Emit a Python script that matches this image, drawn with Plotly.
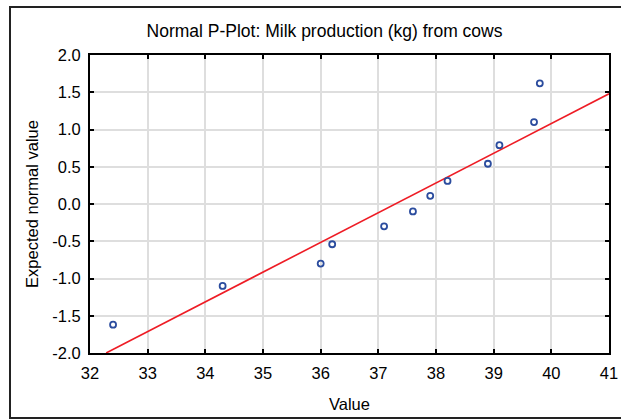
import plotly.graph_objects as go

# observed values and their expected normal quantiles
values = [32.4, 34.3, 36.0, 36.2, 37.1, 37.6, 37.9, 38.2, 38.9, 39.1, 39.7, 39.8]
expected = [-1.62, -1.10, -0.80, -0.54, -0.30, -0.10, 0.11, 0.31, 0.54, 0.79, 1.10, 1.62]

# fitted reference line (end points)
fit_x = [32.28, 41.0]
fit_y = [-2.0, 1.48]

x_ticks = [32, 33, 34, 35, 36, 37, 38, 39, 40, 41]
y_ticks = [-2.0, -1.5, -1.0, -0.5, 0.0, 0.5, 1.0, 1.5, 2.0]
y_tick_text = ["%.1f" % v for v in y_ticks]

FONT = "Arial, Liberation Sans, sans-serif"

fig = go.Figure()
fig.add_trace(
    go.Scatter(
        x=fit_x,
        y=fit_y,
        mode="lines",
        line=dict(color="#ee1c25", width=1.6),
        hoverinfo="skip",
        showlegend=False,
    )
)
fig.add_trace(
    go.Scatter(
        x=values,
        y=expected,
        mode="markers",
        marker=dict(symbol="circle-open", size=6, color="#2b4c9e", line=dict(width=1.8, color="#2b4c9e")),
        showlegend=False,
    )
)

W, H = 621, 419
L, R, T, B = 90, 12, 55, 66
pw, ph = W - L - R, H - T - B


def px_x(p):
    return (p - L) / pw


def px_y(p):
    return (H - B - p) / ph


# outer frame around the whole graph
fig.add_shape(
    type="rect",
    xref="paper",
    yref="paper",
    x0=px_x(10),
    x1=px_x(630),
    y0=px_y(418),
    y1=px_y(7),
    line=dict(color="#222222", width=2),
    fillcolor="rgba(0,0,0,0)",
    layer="below",
)

axis_common = dict(
    showline=True,
    linecolor="black",
    linewidth=2,
    mirror="ticks",
    ticks="inside",
    ticklen=4,
    tickwidth=1.5,
    tickcolor="black",
    showgrid=True,
    gridcolor="#dedede",
    gridwidth=1.5,
    zeroline=False,
    tickfont=dict(family=FONT, size=16.5, color="black"),
    title_font=dict(family=FONT, size=16.5, color="black"),
)

fig.update_layout(
    width=W,
    height=H,
    autosize=False,
    margin=dict(l=L, r=R, t=T, b=B, pad=0),
    title=dict(
        text="Normal P-Plot: Milk production (kg) from cows",
        font=dict(family=FONT, size=17.5, color="black"),
        x=324.5 / W,
        xanchor="center",
        xref="container",
        y=(H - 31) / H,
        yanchor="middle",
        yref="container",
    ),
    xaxis=dict(
        range=[32, 41],
        tickvals=x_ticks,
        ticklabelstandoff=4,
        title=dict(text="Value", standoff=18),
        **axis_common,
    ),
    yaxis=dict(
        range=[-2.0, 2.0],
        tickvals=y_ticks,
        ticktext=y_tick_text,
        ticklabelstandoff=4,
        title=dict(text="Expected normal value", standoff=9),
        **axis_common,
    ),
)
fig.layout.template = None
fig.update_layout(paper_bgcolor="white", plot_bgcolor="white")

# page has a default body margin; drop it so the figure sits at the window corner
fig.write_html(
    "out.html",
    config={"displayModeBar": False},
    post_script="document.body.style.margin='0';",
)
